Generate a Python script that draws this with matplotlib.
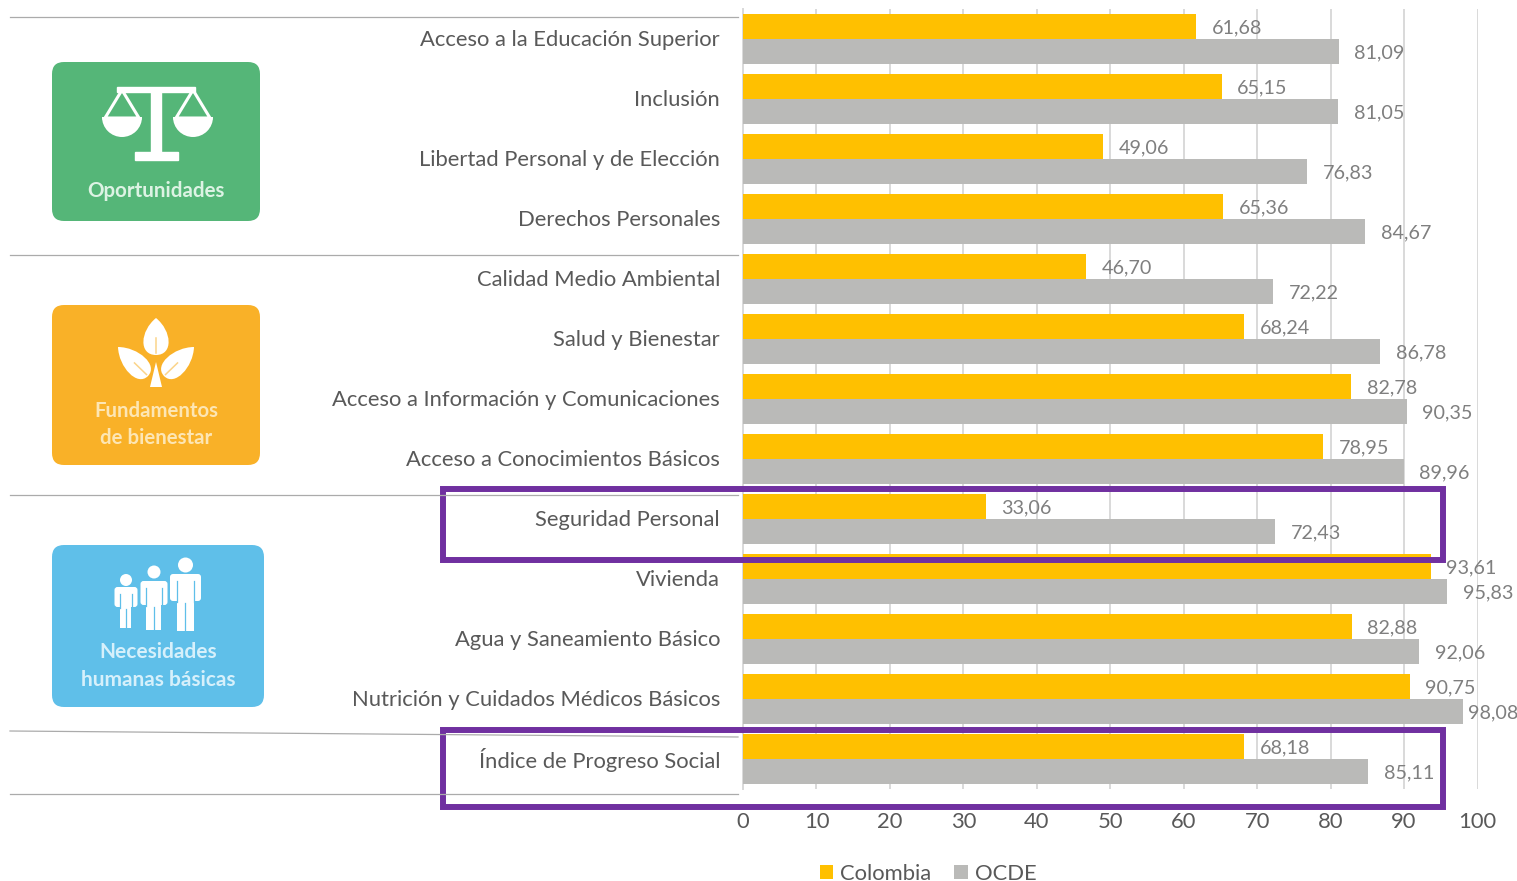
import numpy as np
import matplotlib
matplotlib.use('Agg')
import matplotlib.pyplot as plt
from matplotlib.patches import FancyBboxPatch, Rectangle, Polygon, Circle, Wedge, PathPatch
from matplotlib.path import Path
from matplotlib.transforms import ScaledTranslation

plt.rcParams['font.family'] = ['Lato', 'DejaVu Sans']

categories = ['Acceso a la Educación Superior', 'Inclusión', 'Libertad Personal y de Elección',
              'Derechos Personales', 'Calidad Medio Ambiental', 'Salud y Bienestar',
              'Acceso a Información y Comunicaciones', 'Acceso a Conocimientos Básicos',
              'Seguridad Personal', 'Vivienda', 'Agua y Saneamiento Básico',
              'Nutrición y Cuidados Médicos Básicos', 'Índice de Progreso Social']
colombia = [61.68, 65.15, 49.06, 65.36, 46.70, 68.24, 82.78, 78.95, 33.06, 93.61, 82.88, 90.75, 68.18]
ocde = [81.09, 81.05, 76.83, 84.67, 72.22, 86.78, 90.35, 89.96, 72.43, 95.83, 92.06, 98.08, 85.11]
xticks = [0, 10, 20, 30, 40, 50, 60, 70, 80, 90, 100]

W, H = 1517, 881
GREY_TEXT = '#595959'
fig = plt.figure(figsize=(W / 100, H / 100), dpi=100)

# chart axes, placed by pixels
left, right, top, bottom = 743, 1477.5, 9, 789
ax = fig.add_axes([left / W, 1 - bottom / H, (right - left) / W, (bottom - top) / H])
y = np.arange(len(categories))
bar_h = 25 / 60
ax.barh(y - bar_h / 2, colombia, bar_h, color='#FFC000', label='Colombia', zorder=3)
ax.barh(y + bar_h / 2, ocde, bar_h, color='#BABAB8', label='OCDE', zorder=3)
ax.set_xlim(0, 100)
ax.set_ylim(len(categories) - 0.5, -0.5)
ax.set_xticks(xticks)
ax.set_yticks(y)
ax.set_yticklabels(categories, fontsize=15.8, color=GREY_TEXT, va='center')
ax.tick_params(axis='y', length=0, pad=16.5)
ax.tick_params(axis='x', length=0, pad=16.3, labelsize=15.8, labelcolor=GREY_TEXT)
# nudge the category labels one pixel down
for lab in ax.get_yticklabels():
    lab.set_transform(lab.get_transform() + ScaledTranslation(0, -1.2 / 100, fig.dpi_scale_trans))
ax.grid(axis='x', color='#D9D9D9', lw=1.4, zorder=0)
for s in ['top', 'right', 'bottom']:
    ax.spines[s].set_visible(False)
ax.spines['left'].set_color('#D9D9D9')
ax.spines['left'].set_linewidth(1.4)


def value_label(v, ypos):
    # the label of the longest bar sits closer to it, otherwise it leaves the picture
    dx = 3.4 if v > 97 else 11.3
    ax.annotate('{:.2f}'.format(v).replace('.', ','), (v, ypos), xytext=(dx, -0.7),
                textcoords='offset points', va='center', fontsize=14.2,
                color='#7F7F7F', zorder=6)


for i in range(len(categories)):
    value_label(colombia[i], y[i] - bar_h / 2)
    value_label(ocde[i], y[i] + bar_h / 2)

fig.legend(loc='center left', bbox_to_anchor=(820 / W, 1 - 873.5 / H), ncol=2, frameon=False,
           fontsize=15.8, labelcolor=GREY_TEXT, handlelength=0.6, handleheight=0.6,
           handletextpad=0.32, columnspacing=1.05, borderpad=0, borderaxespad=0)

# overlay in pixel coordinates, y going down
ov = fig.add_axes([0, 0, 1, 1], zorder=5)
ov.set_xlim(0, W)
ov.set_ylim(H, 0)
ov.axis('off')
ov.patch.set_alpha(0)

# group separators
for x0, y0, x1, y1 in [(10, 17, 738, 17), (10, 255, 738, 255), (10, 495, 738, 495),
                       (10, 731, 738, 737), (10, 794, 738, 794)]:
    ov.plot([x0, x1], [y0, y1], color='#ABABAB', lw=0.9)

# purple highlight boxes
for y0, y1 in [(489, 560), (730, 807)]:
    ov.add_patch(Rectangle((443.5, y0), 1000, y1 - y0, fill=False, ec='#7030A0', lw=4.3))


def card(x0, y0, x1, y1, color):
    ov.add_patch(FancyBboxPatch((x0 + 12, y0 + 12), x1 - x0 - 24, y1 - y0 - 24,
                                boxstyle='round,pad=12,rounding_size=12', fc=color, ec='none'))


WHITE = '#FFFFFF'
GREEN, ORANGE, BLUE = '#55B678', '#F9B128', '#5FBFE9'

# Oportunidades: scales
card(52, 62, 260, 221, GREEN)
ov.text(156, 191, 'Oportunidades', color='#DDF3E4', fontsize=14.8, fontweight='bold', ha='center', va='center')
ov.add_patch(Rectangle((117, 87), 78, 5, color=WHITE))
ov.add_patch(Rectangle((151, 88), 10, 65, color=WHITE))
ov.add_patch(Rectangle((135, 152), 43, 8, color=WHITE))
for cx in [122, 193]:
    ov.add_patch(Polygon([[cx - 17, 118], [cx, 90], [cx + 17, 118]], closed=True, fill=False, ec=WHITE, lw=2.2))
    ov.add_patch(Wedge((cx, 117), 20, 0, 180, fc=WHITE, ec='none'))

# Fundamentos de bienestar: leaves
card(52, 305, 260, 465, ORANGE)
ov.text(156, 411, 'Fundamentos', color='#FDE6B4', fontsize=14.7, fontweight='bold', ha='center', va='center')
ov.text(156, 438, 'de bienestar', color='#FDE6B4', fontsize=14.7, fontweight='bold', ha='center', va='center')


def leaf(tip, base, width):
    tip, base = np.array(tip, float), np.array(base, float)
    d = base - tip
    n = np.array([-d[1], d[0]]) / np.hypot(*d) * width
    verts = [tip, tip + d * 0.35 + n, base + n * 1.1, base,
             base - n * 1.1, tip + d * 0.35 - n, tip]
    codes = [Path.MOVETO] + [Path.CURVE4] * 6
    ov.add_patch(PathPatch(Path(verts, codes), fc=WHITE, ec='none'))
    ov.plot([base[0] - d[0] * 0.05, base[0] - d[0] * 0.45], [base[1] - d[1] * 0.05, base[1] - d[1] * 0.45],
            color='#FBD48A', lw=1.1)


leaf((156, 318), (156, 355), 16)
leaf((118, 347), (148, 376), 14)
leaf((194, 347), (164, 376), 14)
ov.add_patch(Polygon([[156, 362], [150, 387], [162, 387]], closed=True, fc=WHITE, ec='none'))

# Necesidades humanas basicas: people
card(52, 545, 264, 707, BLUE)
ov.text(158, 652, 'Necesidades', color='#D6F0FB', fontsize=15, fontweight='bold', ha='center', va='center')
ov.text(158, 680, 'humanas básicas', color='#D6F0FB', fontsize=15, fontweight='bold', ha='center', va='center')


def person(cx, head_y, r, body_w, body_top, arm_end, leg_w, foot):
    ov.add_patch(Circle((cx, head_y), r, fc=WHITE, ec='none'))
    ov.add_patch(FancyBboxPatch((cx - body_w + 3, body_top + 3), 2 * body_w - 6, arm_end - body_top - 6,
                                boxstyle='round,pad=3,rounding_size=3', fc=WHITE, ec='none'))
    ov.add_patch(Rectangle((cx - leg_w, body_top), 2 * leg_w, foot - body_top, fc=WHITE, ec='none'))
    ov.plot([cx, cx], [arm_end + 2, foot], color=BLUE, lw=0.9)
    for side in [-1, 1]:
        sx = cx + side * (leg_w + 0.3)
        ov.plot([sx, sx], [body_top + 7, arm_end + 1], color=BLUE, lw=0.9)


person(126, 580, 6, 11.5, 587, 607, 5.5, 628)
person(154, 572, 6.5, 13.5, 581, 605, 7.5, 630)
person(185.5, 565, 7.5, 15.5, 574, 601, 8.5, 631)

fig.savefig('out.png', dpi=100)
